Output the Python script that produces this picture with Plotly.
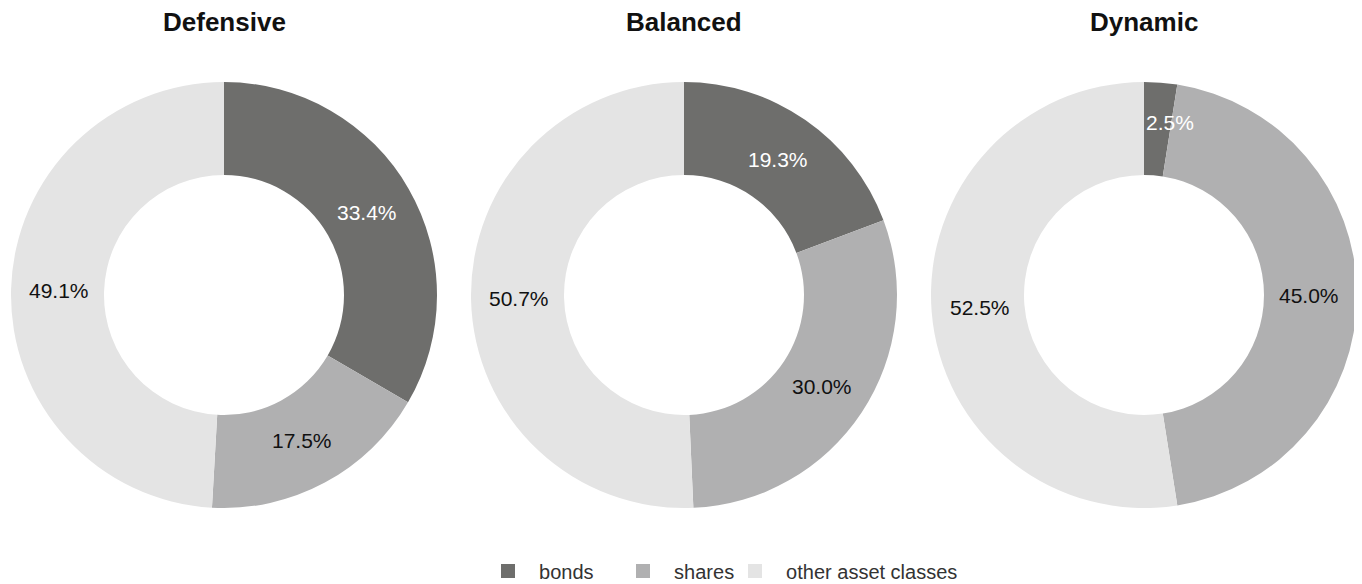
import math
import plotly.graph_objects as go

W, H = 1362, 584
OFF = 8  # page body margin offset

portfolios = ["Defensive", "Balanced", "Dynamic"]
labels = ["bonds", "shares", "other asset classes"]
bonds = [33.4, 19.3, 2.5]
shares = [17.5, 30.0, 45.0]
other = [49.1, 50.7, 52.5]
colors = ["#6e6e6c", "#b0b0b1", "#e4e4e4"]
text_colors = ["#ffffff", "#111111", "#111111"]

FONT = "Liberation Sans, Arial, Helvetica, sans-serif"
centers_x = [224, 684, 1144]
cy = 295
R = 213
R_IN = 120
R_LBL = 165


def px(x):
    return (x - OFF) / W


def py(y):
    return 1 - (y - OFF) / H


fig = go.Figure()
for i, name in enumerate(portfolios):
    cx = centers_x[i]
    vals = [bonds[i], shares[i], other[i]]
    fig.add_trace(go.Pie(
        labels=labels,
        values=vals,
        hole=R_IN / R,
        sort=False,
        direction="clockwise",
        rotation=0,
        marker=dict(colors=colors, line=dict(width=0)),
        textinfo="none",
        hoverinfo="label+value",
        showlegend=False,
        domain=dict(x=[px(cx - R), px(cx + R)], y=[py(cy + R), py(cy - R)]),
        name=name,
    ))
    fig.add_annotation(
        x=px(cx), y=py(22), xref="paper", yref="paper",
        text="<b>%s</b>" % name, showarrow=False,
        font=dict(family=FONT, size=26, color="#111111"),
        xanchor="center", yanchor="middle",
    )
    # slice labels at mid-angle of each slice, mid-ring radius
    total = sum(vals)
    cum = 0.0
    for j, v in enumerate(vals):
        mid = (cum + v / 2) / total * 2 * math.pi
        cum += v
        lx = cx + R_LBL * math.sin(mid)
        ly = cy - R_LBL * math.cos(mid)
        small = v / total < 0.05
        fig.add_annotation(
            x=px(lx), y=py(ly), xref="paper", yref="paper",
            text="%.1f%%" % v, showarrow=False,
            font=dict(family=FONT, size=21, color=text_colors[j]),
            xanchor="center", yanchor="middle",
            xshift=13 if small else 0, yshift=8 if small else 0,
        )

# legend: one entry per legend box
legend_sq_x = [508, 643, 755]
legend_y = 571
legend_names = ["legend", "legend2", "legend3"]
layout_legends = {}
for j, lab in enumerate(labels):
    fig.add_trace(go.Scatter(
        x=[None], y=[None], mode="markers", name="\u00a0\u00a0" + lab,
        marker=dict(symbol="square", size=14, color=colors[j]),
        legend=legend_names[j], showlegend=True, hoverinfo="skip",
    ))
    layout_legends[legend_names[j]] = dict(
        x=px(legend_sq_x[j] - 20), xanchor="left",
        y=py(legend_y), yanchor="middle",
        orientation="h", bgcolor="rgba(0,0,0,0)",
        font=dict(family=FONT, size=20, color="#333333"),
    )

fig.update_layout(
    width=W, height=H,
    margin=dict(l=0, r=0, t=0, b=0),
    paper_bgcolor="white", plot_bgcolor="white",
    xaxis=dict(visible=False), yaxis=dict(visible=False),
    **layout_legends,
)
fig.write_html("out.html")
